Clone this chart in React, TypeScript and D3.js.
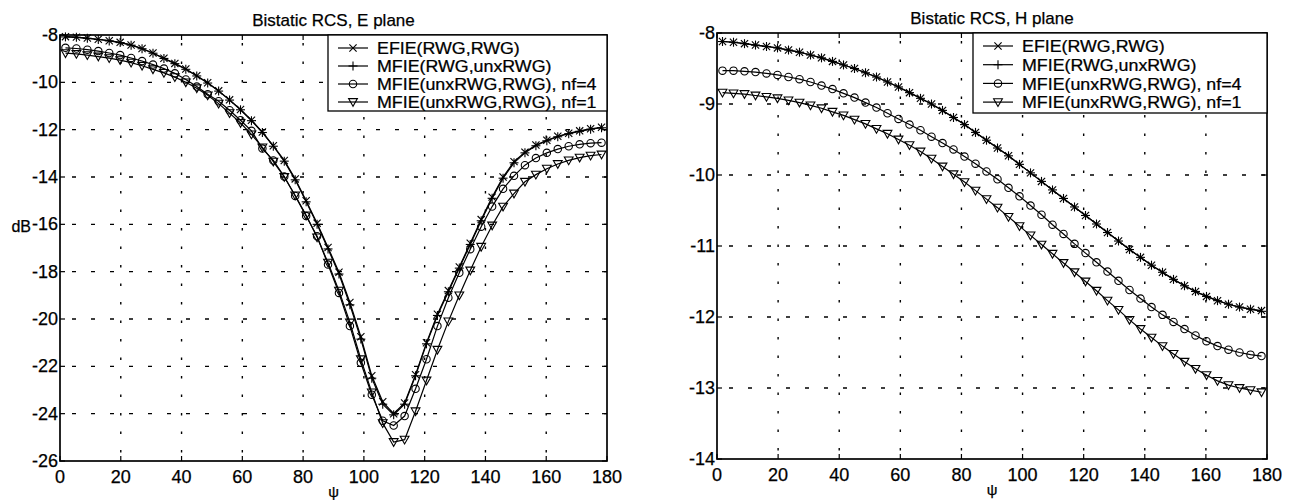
import React from "react";
import * as d3 from "d3";

// ---------------- data ----------------
const psi = [
  1.8, 5.4, 9.0, 12.6, 16.2, 19.8, 23.4, 27.0, 30.6, 34.2,
  37.8, 41.4, 45.0, 48.6, 52.2, 55.8, 59.4, 63.0, 66.6, 70.2,
  73.8, 77.4, 81.0, 84.6, 88.2, 91.8, 95.4, 99.0, 102.6, 106.2,
  109.8, 113.4, 117.0, 120.6, 124.2, 127.8, 131.4, 135.0, 138.6, 142.2,
  145.8, 149.4, 153.0, 156.6, 160.2, 163.8, 167.4, 171.0, 174.6, 178.2,
];

// E plane
const eEfie = [
  -8.07, -8.09, -8.13, -8.18, -8.24, -8.31, -8.42, -8.57, -8.76, -8.98,
  -9.2, -9.44, -9.72, -10.02, -10.36, -10.74, -11.15, -11.6, -12.1, -12.68,
  -13.3, -14.08, -15.0, -15.95, -16.98, -18.02, -19.3, -20.75, -22.4, -23.5,
  -24.0, -23.55, -22.35, -21.0, -19.8, -18.8, -17.8, -16.8, -15.8, -14.85,
  -14.0, -13.35, -12.95, -12.65, -12.45, -12.28, -12.15, -12.05, -11.96, -11.9,
];
const eMfie = [
  -8.08, -8.1, -8.14, -8.19, -8.25, -8.32, -8.43, -8.58, -8.77, -8.99,
  -9.21, -9.45, -9.73, -10.03, -10.37, -10.75, -11.16, -11.62, -12.12, -12.7,
  -13.33, -14.12, -15.05, -16.0, -17.04, -18.1, -19.4, -20.85, -22.5, -23.6,
  -24.05, -23.6, -22.4, -21.05, -19.85, -18.85, -17.85, -16.85, -15.85, -14.9,
  -14.05, -13.4, -12.98, -12.68, -12.47, -12.3, -12.17, -12.07, -11.98, -11.92,
];
const eNf4 = [
  -8.54, -8.57, -8.62, -8.68, -8.76, -8.85, -8.97, -9.1, -9.25, -9.42,
  -9.62, -9.88, -10.18, -10.5, -10.8, -11.18, -11.6, -12.05, -12.8, -13.3,
  -13.98, -14.8, -15.65, -16.5, -17.7, -18.9, -20.3, -21.85, -23.2, -24.3,
  -24.5, -24.1, -22.95, -21.7, -20.3, -19.1, -18.05, -17.05, -16.1, -15.25,
  -14.5, -13.95, -13.5, -13.2, -12.98, -12.82, -12.7, -12.62, -12.57, -12.55,
];
const eNf1 = [
  -8.77, -8.8, -8.85, -8.91, -8.98, -9.06, -9.17, -9.3, -9.45, -9.6,
  -9.78, -10.0, -10.25, -10.55, -10.9, -11.3, -11.72, -12.2, -12.75, -13.35,
  -14.0, -14.78, -15.62, -16.55, -17.62, -18.8, -20.15, -21.7, -23.1, -24.4,
  -25.2, -25.1, -23.9, -22.6, -21.3, -20.1, -19.0, -17.95, -16.95, -16.05,
  -15.25, -14.7, -14.2, -13.9, -13.65, -13.45, -13.3, -13.18, -13.1, -13.05,
];

// H plane
const hEfie = [
  -8.12, -8.13, -8.15, -8.17, -8.19, -8.21, -8.24, -8.27, -8.31, -8.35,
  -8.4, -8.45, -8.5, -8.56, -8.62, -8.69, -8.76, -8.84, -8.92, -9.0,
  -9.09, -9.19, -9.29, -9.4, -9.51, -9.62, -9.73, -9.85, -9.97, -10.09,
  -10.21, -10.33, -10.45, -10.57, -10.69, -10.81, -10.93, -11.05, -11.16, -11.27,
  -11.37, -11.47, -11.56, -11.64, -11.71, -11.77, -11.82, -11.86, -11.89, -11.91,
];
const hMfie = [
  -8.12, -8.13, -8.15, -8.17, -8.19, -8.21, -8.24, -8.27, -8.31, -8.35,
  -8.4, -8.45, -8.5, -8.56, -8.62, -8.69, -8.76, -8.84, -8.92, -9.0,
  -9.09, -9.19, -9.29, -9.4, -9.51, -9.62, -9.73, -9.85, -9.97, -10.09,
  -10.21, -10.33, -10.45, -10.57, -10.69, -10.81, -10.93, -11.05, -11.16, -11.27,
  -11.37, -11.47, -11.56, -11.64, -11.71, -11.77, -11.82, -11.86, -11.89, -11.92,
];
const hNf4 = [
  -8.53, -8.53, -8.54, -8.55, -8.57, -8.59, -8.62, -8.65, -8.69, -8.74,
  -8.79, -8.85, -8.91, -8.98, -9.05, -9.13, -9.21, -9.29, -9.37, -9.46,
  -9.55, -9.64, -9.74, -9.84, -9.95, -10.06, -10.18, -10.3, -10.43, -10.56,
  -10.7, -10.83, -10.97, -11.1, -11.23, -11.36, -11.49, -11.62, -11.74, -11.86,
  -11.97, -12.07, -12.17, -12.26, -12.34, -12.41, -12.46, -12.5, -12.53, -12.55,
];
const hNf1 = [
  -8.84, -8.85, -8.86, -8.88, -8.9, -8.92, -8.95, -8.98, -9.02, -9.06,
  -9.11, -9.16, -9.22, -9.28, -9.35, -9.42, -9.5, -9.58, -9.67, -9.77,
  -9.88, -9.99, -10.1, -10.22, -10.34, -10.46, -10.59, -10.72, -10.85, -10.98,
  -11.11, -11.24, -11.37, -11.5, -11.63, -11.77, -11.9, -12.04, -12.17, -12.29,
  -12.41, -12.52, -12.63, -12.73, -12.82, -12.9, -12.96, -13.0, -13.03, -13.06,
];

const legendLabels = [
  "EFIE(RWG,RWG)",
  "MFIE(RWG,unxRWG)",
  "MFIE(unxRWG,RWG), nf=4",
  "MFIE(unxRWG,RWG), nf=1",
];
const markerKinds = ["x", "+", "o", "v"];

const xTicks = [0, 20, 40, 60, 80, 100, 120, 140, 160, 180];
const eYTicks = [-26, -24, -22, -20, -18, -16, -14, -12, -10, -8];
const hYTicks = [-14, -13, -12, -11, -10, -9, -8];

const FONT = "'Liberation Sans', Arial, Helvetica, sans-serif";

// ---------------- components ----------------
function Marker({ kind, x, y }: { kind: string; x: number; y: number }) {
  const s = 3.6;
  const common = { stroke: "#000", strokeWidth: 1.1, fill: "none" };
  if (kind === "x")
    return (
      <g {...common}>
        <line x1={x - s} y1={y - s} x2={x + s} y2={y + s} />
        <line x1={x - s} y1={y + s} x2={x + s} y2={y - s} />
      </g>
    );
  if (kind === "+")
    return (
      <g {...common}>
        <line x1={x - 4.5} y1={y} x2={x + 4.5} y2={y} />
        <line x1={x} y1={y - 4.5} x2={x} y2={y + 4.5} />
      </g>
    );
  if (kind === "o") return <circle cx={x} cy={y} r={3.7} {...common} />;
  return (
    <polygon
      points={`${x},${y + 4.3} ${x - 4.4},${y - 3.4} ${x + 4.4},${y - 3.4}`}
      {...common}
    />
  );
}

type PanelProps = {
  left: number;
  right: number;
  top: number;
  bottom: number;
  yTicks: number[];
  title: string;
  series: number[][];
  legendLeft: number;
  legendBottom: number;
  rowGap: number;
  showDb: boolean;
};

function Panel(p: PanelProps) {
  const x = d3.scaleLinear().domain([0, 180]).range([p.left, p.right]);
  const yMin = d3.min(p.yTicks) as number;
  const yMax = d3.max(p.yTicks) as number;
  const y = d3.scaleLinear().domain([yMin, yMax]).range([p.bottom, p.top]);
  const line = d3
    .line<number>()
    .x((_, i) => x(psi[i]))
    .y((d) => y(d));
  const tick = 5;
  const cx = (p.left + p.right) / 2;
  const txt = { stroke: "#000", strokeWidth: 0.25 };

  return (
    <g fontFamily={FONT} fill="#000">
      {/* grid */}
      {xTicks
        .filter((t) => t > 0 && t < 180)
        .map((t) => (
          <line
            key={"gx" + t}
            x1={x(t)}
            x2={x(t)}
            y1={p.top}
            y2={p.bottom}
            stroke="#000"
            strokeWidth={1.4}
            strokeDasharray="2.5,16"
            strokeDashoffset={-8}
          />
        ))}
      {p.yTicks
        .filter((t) => t > yMin && t < yMax)
        .map((t) => (
          <line
            key={"gy" + t}
            x1={p.left}
            x2={p.right}
            y1={y(t)}
            y2={y(t)}
            stroke="#000"
            strokeWidth={1.4}
            strokeDasharray="4,15"
            strokeDashoffset={-12}
          />
        ))}
      {/* curves */}
      {p.series.map((s, si) => (
        <g key={"s" + si}>
          <path d={line(s) || ""} fill="none" stroke="#000" strokeWidth={1.2} />
          {s.map((v, i) => (
            <Marker key={i} kind={markerKinds[si]} x={x(psi[i])} y={y(v)} />
          ))}
        </g>
      ))}
      {/* frame */}
      <rect
        x={p.left}
        y={p.top}
        width={p.right - p.left}
        height={p.bottom - p.top}
        fill="none"
        stroke="#000"
        strokeWidth={1.7}
      />
      {/* ticks */}
      {xTicks.map((t) => (
        <g key={"tx" + t} stroke="#000" strokeWidth={1.2}>
          <line x1={x(t)} x2={x(t)} y1={p.bottom} y2={p.bottom - tick} />
          <line x1={x(t)} x2={x(t)} y1={p.top} y2={p.top + tick} />
        </g>
      ))}
      {p.yTicks.map((t) => (
        <g key={"ty" + t} stroke="#000" strokeWidth={1.2}>
          <line x1={p.left} x2={p.left + tick} y1={y(t)} y2={y(t)} />
          <line x1={p.right} x2={p.right - tick} y1={y(t)} y2={y(t)} />
        </g>
      ))}
      {/* tick labels */}
      {xTicks.map((t) => (
        <text
          key={"lx" + t}
          x={x(t)}
          y={p.bottom + 16}
          fontSize={18}
          textAnchor="middle"
          dominantBaseline="central"
          {...txt}
        >
          {t}
        </text>
      ))}
      {p.yTicks.map((t) => (
        <text
          key={"ly" + t}
          x={p.left - 2}
          y={y(t)}
          fontSize={18}
          textAnchor="end"
          dominantBaseline="central"
          {...txt}
        >
          {t}
        </text>
      ))}
      {/* title & labels */}
      <text
        x={cx}
        y={p.top - 15}
        fontSize={17}
        textAnchor="middle"
        dominantBaseline="central"
        {...txt}
      >
        {p.title}
      </text>
      <text
        x={cx}
        y={p.bottom + 30}
        fontSize={15}
        textAnchor="middle"
        dominantBaseline="central"
        {...txt}
      >
        ψ
      </text>
      {p.showDb && (
        <text
          x={p.left - 29}
          y={y(-16) + 2}
          fontSize={16}
          textAnchor="end"
          dominantBaseline="central"
          {...txt}
        >
          dB
        </text>
      )}
      {/* legend */}
      <rect
        x={p.legendLeft}
        y={p.top}
        width={p.right - p.legendLeft}
        height={p.legendBottom - p.top}
        fill="#fff"
        stroke="#000"
        strokeWidth={1.3}
      />
      {legendLabels.map((lab, i) => {
        const ly = p.top + 13 + i * p.rowGap;
        const lx = p.legendLeft + 10;
        return (
          <g key={"lg" + i}>
            <line x1={lx} x2={lx + 30} y1={ly} y2={ly} stroke="#000" strokeWidth={1.2} />
            <Marker kind={markerKinds[i]} x={lx + 15} y={ly} />
            <text
              transform={`translate(${lx + 39},${ly + 1}) scale(1.1,1)`}
              fontSize={16.2}
              dominantBaseline="central"
              {...txt}
            >
              {lab}
            </text>
          </g>
        );
      })}
    </g>
  );
}

export default function App() {
  return (
    <svg
      width={1297}
      height={500}
      style={{ position: "absolute", left: 0, top: 0, display: "block", background: "#fff" }}
    >
      <rect width={1297} height={500} fill="#fff" />
      <Panel
        left={60}
        right={607}
        top={35}
        bottom={461}
        yTicks={eYTicks}
        title="Bistatic RCS, E plane"
        series={[eEfie, eMfie, eNf4, eNf1]}
        legendLeft={328}
        legendBottom={111}
        rowGap={18}
        showDb={true}
      />
      <Panel
        left={717}
        right={1267}
        top={33}
        bottom={459}
        yTicks={hYTicks}
        title="Bistatic RCS, H plane"
        series={[hEfie, hMfie, hNf4, hNf1]}
        legendLeft={973}
        legendBottom={113}
        rowGap={18.7}
        showDb={false}
      />
    </svg>
  );
}
